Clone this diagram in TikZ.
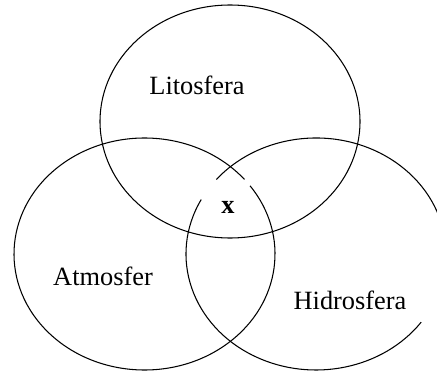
\documentclass[tikz,border=0pt]{standalone}
\usepackage{fontspec}
\setmainfont{Liberation Serif}
\usepackage{tikz}

\tikzset{
	sphere/.style={line width=0.6pt, black},
	sphlabel/.style={anchor=base, inner sep=0, font=\fontsize{15}{18}\selectfont},
}

\begin{document}
\begin{tikzpicture}
	% Frame:
	\useasboundingbox (0, 0) rectangle (8.74, 7.44);
	\clip (0, 0) rectangle (8.74, 7.44);
	% Ellipses:
	\draw[sphere] (4.6, 5.01) ellipse[x radius=2.6cm, y radius=2.33cm];
	\draw[sphere] ([shift={(40:2.61cm and 2.32cm)}]2.89, 2.36) arc[start angle=40, end angle=396, x radius=2.61cm, y radius=2.32cm];
	\draw[sphere] ([shift={(152:2.6cm and 2.32cm)}]6.32, 2.36) arc[start angle=152, end angle=324, x radius=2.6cm, y radius=2.32cm];
	\draw[sphere] ([shift={(10:2.6cm and 2.32cm)}]6.32, 2.36) arc[start angle=10, end angle=140, x radius=2.6cm, y radius=2.32cm];
	% Labels:
	\node[sphlabel] (Lito) at (3.94, 5.56) {Litosfera};
	\node[sphlabel] (Atmo) at (2.06, 1.72) {Atmosfer};
	\node[sphlabel] (Hidro) at (7.0, 1.26) {Hidrosfera};
	\node[sphlabel, font=\fontsize{15}{18}\selectfont\bfseries] (X) at (4.56, 3.18) {x};
\end{tikzpicture}
\end{document}
